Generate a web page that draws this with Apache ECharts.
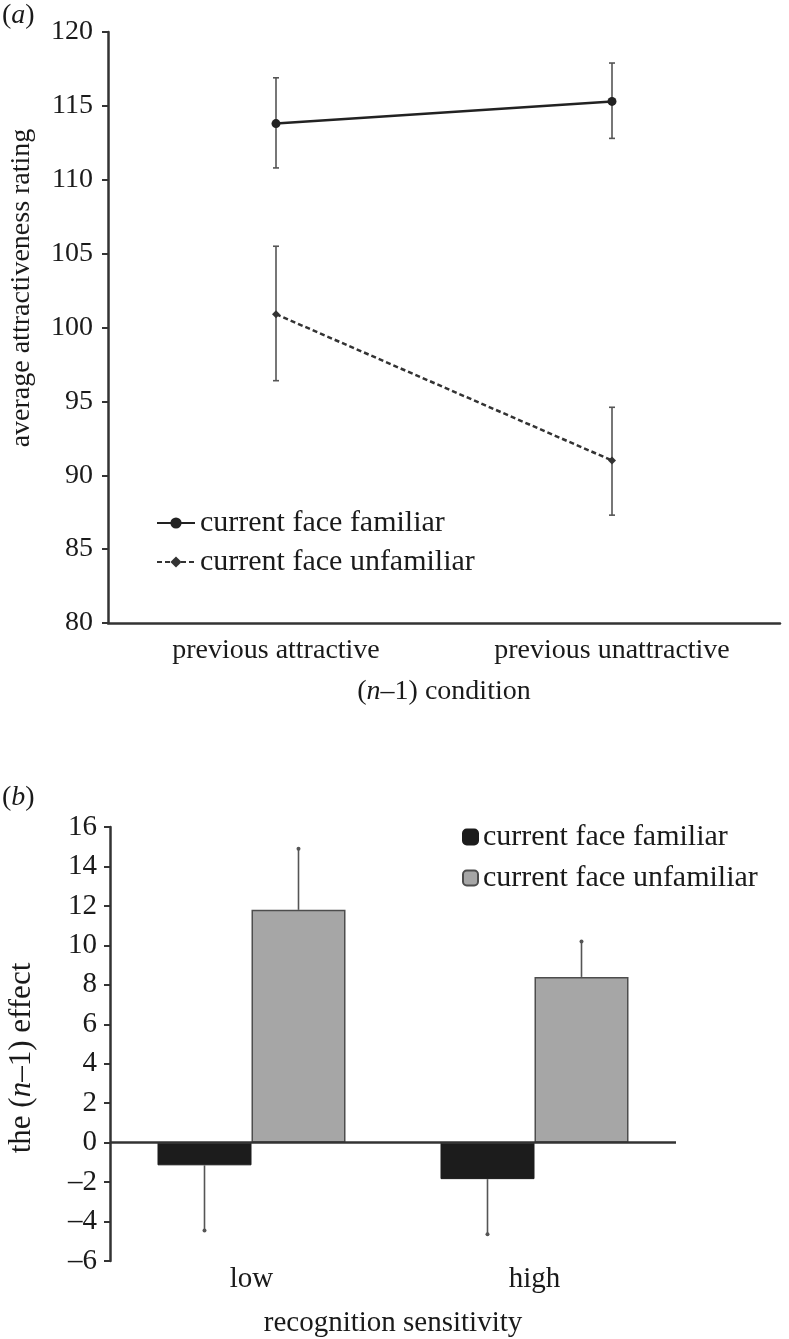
<!DOCTYPE html>
<html>
<head>
<meta charset="utf-8">
<script src="https://cdn.jsdelivr.net/npm/echarts@6/dist/echarts.min.js"></script>
<style>
html,body{margin:0;padding:0;background:#fff;}
#chart{width:789px;height:1339px;}
</style>
</head>
<body>
<div id="chart"></div>
<script>
// ---- data ----
var conditionCats = ['previous attractive', 'previous unattractive'];
var familiarMean = [113.8, 115.3];
var familiarLow = [110.8, 112.8];
var familiarHigh = [116.9, 117.9];
var unfamiliarMean = [100.9, 91.0];
var unfamiliarLow = [96.4, 87.3];
var unfamiliarHigh = [105.5, 94.6];

var sensCats = ['low', 'high'];
var effFamiliar = [-1.15, -1.85];
var effFamiliarErrEnd = [-4.45, -4.65];
var effUnfamiliar = [11.8, 8.4];
var effUnfamiliarErrEnd = [14.9, 10.2];

var nameFam = 'current face familiar';
var nameUnfam = 'current face unfamiliar';

// ---- styling ----
var FONT = "'Liberation Serif','Times New Roman',serif";
var TXT = '#1a1a1a';
var AX = '#333';
var BAR_W = 94;

var chart = echarts.init(document.getElementById('chart'));

function errBarTop() {
  return function (params, api) {
    var i = api.value(0);
    var lo = api.coord([i, api.value(1)]);
    var hi = api.coord([i, api.value(2)]);
    var cap = 3;
    var st = {stroke: '#555', lineWidth: 1.6};
    return {
      type: 'group',
      children: [
        {type: 'line', shape: {x1: lo[0], y1: lo[1], x2: hi[0], y2: hi[1]}, style: st},
        {type: 'line', shape: {x1: lo[0] - cap, y1: lo[1], x2: lo[0] + cap, y2: lo[1]}, style: st},
        {type: 'line', shape: {x1: hi[0] - cap, y1: hi[1], x2: hi[0] + cap, y2: hi[1]}, style: st}
      ]
    };
  };
}

function errBarBottom(side) {
  return function (params, api) {
    var i = api.value(0);
    var a = api.coord([i, api.value(1)]);
    var b = api.coord([i, api.value(2)]);
    var dx = side * BAR_W / 2;
    return {
      type: 'group',
      children: [
        {type: 'line', shape: {x1: a[0] + dx, y1: a[1], x2: b[0] + dx, y2: b[1]}, style: {stroke: '#555', lineWidth: 1.6}},
        {type: 'circle', shape: {cx: b[0] + dx, cy: b[1], r: 2}, style: {fill: '#555'}}
      ]
    };
  };
}

function dashLabel(v) { return String(v).replace('-', '\u2013'); }

var option = {
  animation: false,
  backgroundColor: '#fff',
  textStyle: {fontFamily: FONT, color: TXT},
  graphic: [
    {type: 'text', left: 2, top: 2, style: {text: '({i|a})', fontFamily: FONT, fontSize: 28, fill: TXT,
      rich: {i: {fontStyle: 'italic', fontFamily: FONT, fontSize: 28, fill: TXT}}}},
    {type: 'text', left: 2, top: 784, style: {text: '({i|b})', fontFamily: FONT, fontSize: 28, fill: TXT,
      rich: {i: {fontStyle: 'italic', fontFamily: FONT, fontSize: 28, fill: TXT}}}},
    {type: 'text', x: 22, y: 288, rotation: Math.PI / 2,
      style: {text: 'average attractiveness rating', fontFamily: FONT, fontSize: 28, fill: TXT, align: 'center', verticalAlign: 'middle'}},
    {type: 'text', x: 22, y: 1058, rotation: Math.PI / 2,
      style: {text: 'the ({i|n}\u20131) effect', fontFamily: FONT, fontSize: 31, fill: TXT, align: 'center', verticalAlign: 'middle',
        rich: {i: {fontStyle: 'italic', fontFamily: FONT, fontSize: 31, fill: TXT}}}}
  ],
  legend: [
    {
      data: [nameFam, nameUnfam],
      orient: 'vertical', left: 151, top: 503, itemGap: 9,
      itemWidth: 38, itemHeight: 14,
      textStyle: {fontFamily: FONT, fontSize: 30, color: TXT},
      selectedMode: false
    },
    {
      data: [nameFam + ' ', nameUnfam + ' '],
      orient: 'vertical', left: 457, top: 817, itemGap: 11,
      itemWidth: 15, itemHeight: 15,
      textStyle: {fontFamily: FONT, fontSize: 30, color: TXT},
      selectedMode: false
    }
  ],
  grid: [
    {left: 108, right: 9, top: 32, height: 591},
    {left: 110, right: 113, top: 827, height: 434}
  ],
  xAxis: [
    {
      type: 'category', gridIndex: 0, data: conditionCats,
      axisLine: {lineStyle: {color: AX, width: 2.5}},
      axisTick: {alignWithLabel: true, length: 6, lineStyle: {color: AX, width: 2}},
      axisLabel: {fontFamily: FONT, fontSize: 28, color: TXT, margin: 14},
      name: '({i|n}\u20131) condition', nameLocation: 'middle', nameGap: 55,
      nameTextStyle: {fontFamily: FONT, fontSize: 28, color: TXT,
        rich: {i: {fontStyle: 'italic', fontFamily: FONT, fontSize: 28, color: TXT}}}
    },
    {
      type: 'category', gridIndex: 1, data: sensCats,
      axisLine: {show: false, onZero: false},
      axisTick: {show: false},
      axisLabel: {fontFamily: FONT, fontSize: 29, color: TXT, margin: 4},
      name: 'recognition sensitivity', nameLocation: 'middle', nameGap: 48,
      nameTextStyle: {fontFamily: FONT, fontSize: 29, color: TXT}
    }
  ],
  yAxis: [
    {
      type: 'value', gridIndex: 0, min: 80, max: 120, interval: 5,
      axisLine: {show: true, lineStyle: {color: AX, width: 2.5}},
      axisTick: {show: true, length: 6, lineStyle: {color: AX, width: 2}},
      axisLabel: {fontFamily: FONT, fontSize: 28, color: TXT, margin: 15},
      splitLine: {show: false}
    },
    {
      type: 'value', gridIndex: 1, min: -6, max: 16, interval: 2,
      axisLine: {show: true, lineStyle: {color: AX, width: 2.5}},
      axisTick: {show: true, length: 6, lineStyle: {color: AX, width: 2}},
      axisLabel: {fontFamily: FONT, fontSize: 29, color: TXT, margin: 13, formatter: dashLabel},
      splitLine: {show: false}
    }
  ],
  series: [
    {
      name: nameFam, type: 'line', xAxisIndex: 0, yAxisIndex: 0,
      data: familiarMean, symbol: 'circle', symbolSize: 9,
      lineStyle: {color: '#222', width: 2.5},
      itemStyle: {color: '#222'}, z: 5
    },
    {
      name: nameUnfam, type: 'line', xAxisIndex: 0, yAxisIndex: 0,
      data: unfamiliarMean, symbol: 'diamond', symbolSize: 8,
      lineStyle: {color: '#333', width: 2.5, type: [5, 3]},
      itemStyle: {color: '#333'}, z: 5
    },
    {
      name: 'errFam', type: 'custom', xAxisIndex: 0, yAxisIndex: 0,
      renderItem: errBarTop(),
      data: familiarMean.map(function (v, i) { return [i, familiarLow[i], familiarHigh[i]]; }),
      z: 4
    },
    {
      name: 'errUnfam', type: 'custom', xAxisIndex: 0, yAxisIndex: 0,
      renderItem: errBarTop(),
      data: unfamiliarMean.map(function (v, i) { return [i, unfamiliarLow[i], unfamiliarHigh[i]]; }),
      z: 4
    },
    {
      name: nameFam + ' ', type: 'bar', xAxisIndex: 1, yAxisIndex: 1,
      data: effFamiliar, barWidth: BAR_W, barGap: '0%',
      itemStyle: {color: '#1c1c1c', borderColor: '#1c1c1c', borderWidth: 1},
      markLine: {
        silent: true, symbol: 'none', label: {show: false},
        lineStyle: {color: AX, width: 2.5, type: 'solid'},
        data: [{yAxis: 0}]
      },
      z: 2
    },
    {
      name: nameUnfam + ' ', type: 'bar', xAxisIndex: 1, yAxisIndex: 1,
      data: effUnfamiliar, barWidth: BAR_W, barGap: '0%',
      itemStyle: {color: '#a6a6a6', borderColor: '#4d4d4d', borderWidth: 1.5},
      z: 2
    },
    {
      name: 'errEffFam', type: 'custom', xAxisIndex: 1, yAxisIndex: 1,
      renderItem: errBarBottom(-1),
      data: effFamiliar.map(function (v, i) { return [i, v, effFamiliarErrEnd[i]]; }),
      z: 3
    },
    {
      name: 'errEffUnfam', type: 'custom', xAxisIndex: 1, yAxisIndex: 1,
      renderItem: errBarBottom(1),
      data: effUnfamiliar.map(function (v, i) { return [i, v, effUnfamiliarErrEnd[i]]; }),
      z: 3
    }
  ]
};
chart.setOption(option);
</script>
</body>
</html>
